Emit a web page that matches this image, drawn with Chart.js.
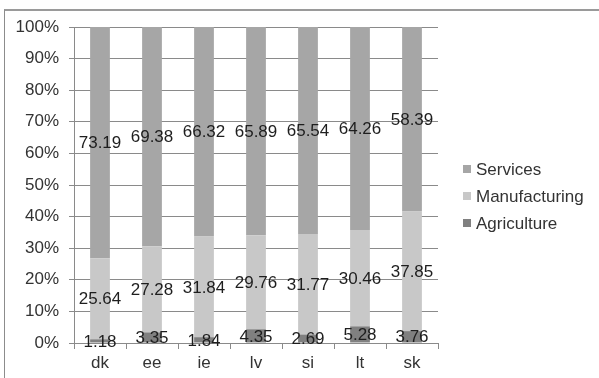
<!DOCTYPE html>
<html>
<head>
<meta charset="utf-8">
<script src="https://cdn.jsdelivr.net/npm/chart.js@4/dist/chart.umd.min.js"></script>
<style>
  html, body { margin: 0; padding: 0; background: #fff; }
  #wrap { position: relative; width: 599px; height: 378px; overflow: hidden; }
  #frame { position: absolute; left: 4px; top: 9px; width: 620px; height: 400px;
           border-top: 2px solid #9a9a9a; border-left: 1px solid #8c8c8c; box-sizing: border-box; }
  #c { position: absolute; left: 0; top: 0; }
</style>
</head>
<body>
<div id="wrap">
  <div id="frame"></div>
  <canvas id="c" width="599" height="378"></canvas>
</div>
<script>
// Sector shares of value added by country (%)
const countries = ['dk', 'ee', 'ie', 'lv', 'si', 'lt', 'sk'];
const agriculture = [1.18, 3.35, 1.84, 4.35, 2.69, 5.28, 3.76];
const manufacturing = [25.64, 27.28, 31.84, 29.76, 31.77, 30.46, 37.85];
const services = [73.19, 69.38, 66.32, 65.89, 65.54, 64.26, 58.39];
const yTicks = [0, 10, 20, 30, 40, 50, 60, 70, 80, 90, 100];

const FONT = "'Liberation Sans', Arial, sans-serif";

// Value labels drawn at the centre of every stacked segment
const segmentLabels = {
  id: 'segmentLabels',
  afterDatasetsDraw(chart) {
    const ctx = chart.ctx;
    ctx.save();
    ctx.font = '17px ' + FONT;
    ctx.fillStyle = '#1e1e1e';
    ctx.textAlign = 'center';
    ctx.textBaseline = 'middle';
    chart.data.datasets.forEach((ds, i) => {
      chart.getDatasetMeta(i).data.forEach((bar, j) => {
        const p = bar.getCenterPoint();
        ctx.fillText(ds.data[j].toFixed(2), p.x, p.y + 1);
      });
    });
    ctx.restore();
  }
};

// Legend on the right, top entry = top of the stack
const sideLegend = {
  id: 'sideLegend',
  afterDraw(chart) {
    const ctx = chart.ctx;
    const area = chart.chartArea;
    const items = chart.data.datasets.map(d => d).reverse();
    const x0 = area.right + 25;
    const yMid = (area.top + area.bottom) / 2 + 11;
    const step = 27;
    ctx.save();
    ctx.font = '17px ' + FONT;
    ctx.textBaseline = 'middle';
    ctx.textAlign = 'left';
    items.forEach((ds, k) => {
      const y = yMid + (k - (items.length - 1) / 2) * step;
      ctx.fillStyle = ds.backgroundColor;
      ctx.fillRect(x0, y - 4, 8, 8);
      ctx.fillStyle = '#333';
      ctx.fillText(ds.label, x0 + 13, y + 1);
    });
    ctx.restore();
  }
};

new Chart(document.getElementById('c'), {
  type: 'bar',
  data: {
    labels: countries,
    datasets: [
      { label: 'Agriculture', data: agriculture, backgroundColor: '#808080' },
      { label: 'Manufacturing', data: manufacturing, backgroundColor: '#c8c8c8' },
      { label: 'Services', data: services, backgroundColor: '#a6a6a6' }
    ]
  },
  options: {
    responsive: false,
    animation: false,
    devicePixelRatio: 1,
    categoryPercentage: 1,
    barPercentage: 0.38,
    layout: { padding: { left: 0, top: 27, right: 161, bottom: 0 } },
    plugins: {
      legend: { display: false },
      tooltip: { enabled: false }
    },
    scales: {
      x: {
        stacked: true,
        offset: true,
        grid: { display: true, drawOnChartArea: false, drawTicks: true, tickLength: 6, color: '#8a8a8a', offset: true },
        border: { display: true, color: '#8a8a8a' },
        ticks: { font: { family: FONT, size: 17 }, color: '#333', padding: 4, maxRotation: 0 },
        afterFit(scale) { scale.height = 35; }
      },
      y: {
        stacked: true,
        min: 0,
        max: 100,
        afterBuildTicks(scale) { scale.ticks = yTicks.map(v => ({ value: v })); },
        grid: { color: '#8a8a8a', tickLength: 5, drawTicks: true },
        border: { display: true, color: '#8a8a8a' },
        ticks: {
          font: { family: FONT, size: 17 },
          color: '#333',
          padding: 10,
          callback: v => v + '%'
        },
        afterFit(scale) { scale.width = 74; }
      }
    }
  },
  plugins: [segmentLabels, sideLegend]
});
</script>
</body>
</html>
